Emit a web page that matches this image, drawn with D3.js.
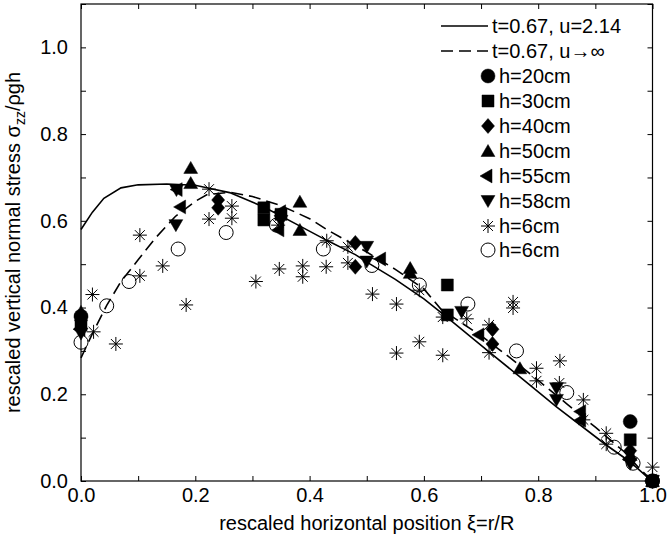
<!DOCTYPE html>
<html>
<head>
<meta charset="utf-8">
<script src="https://cdn.jsdelivr.net/npm/d3@7"></script>
<style>
  body { margin: 0; background: #fff; }
  svg { display: block; font-family: 'Liberation Sans', Arial, sans-serif; }
</style>
</head>
<body>
<svg id="chart" width="668" height="544"></svg>
<script>
// theory curves [xi, sigma]
const curveFinite = [
  [0, 0.58], [0.02, 0.62], [0.04, 0.652], [0.07, 0.676], [0.1, 0.683], [0.15, 0.685],
  [0.2, 0.682], [0.224, 0.675], [0.26, 0.665], [0.32, 0.632], [0.38, 0.59], [0.43, 0.555],
  [0.48, 0.522], [0.506, 0.5], [0.55, 0.465], [0.6, 0.42], [0.64, 0.378], [0.714, 0.298],
  [0.768, 0.24], [0.832, 0.171], [0.919, 0.083], [0.96, 0.045], [0.99, 0.01], [1.0, 0.0]
]
const curveInfinite = [
  [0, 0.284], [0.02, 0.34], [0.045, 0.405], [0.07, 0.46], [0.1, 0.51], [0.13, 0.56],
  [0.165, 0.61], [0.2, 0.645], [0.22, 0.66], [0.26, 0.666], [0.3, 0.656], [0.35, 0.635],
  [0.4, 0.605], [0.43, 0.58], [0.5, 0.528], [0.55, 0.488], [0.6, 0.443], [0.63, 0.396],
  [0.7, 0.335], [0.75, 0.285], [0.8, 0.232], [0.85, 0.178], [0.9, 0.124], [0.95, 0.068],
  [0.98, 0.025], [1.0, 0.0]
]

// measurements [xi, sigma]
const h20 = [[0, 0.38], [0.961, 0.137], [1.0, 0.0]]
const h30 = [[0, 0.36], [0.32, 0.63], [0.32, 0.602], [0.35, 0.615], [0.641, 0.452],
  [0.641, 0.383], [0.961, 0.095], [1.0, 0.0]]
const h40 = [[0, 0.37], [0.24, 0.648], [0.24, 0.63], [0.48, 0.549], [0.48, 0.494],
  [0.72, 0.35], [0.72, 0.316], [0.961, 0.07], [1.0, 0.0]]
const h50 = [[0, 0.39], [0.192, 0.722], [0.192, 0.687], [0.383, 0.644], [0.383, 0.579],
  [0.576, 0.491], [0.576, 0.48], [0.768, 0.26], [0.961, 0.06], [1.0, 0.0]]
const h55 = [[0, 0.35], [0.176, 0.632], [0.17, 0.672], [0.351, 0.621], [0.348, 0.579],
  [0.526, 0.512], [0.698, 0.337], [0.876, 0.16], [0.876, 0.14], [0.961, 0.05], [1.0, 0.0]]
const h58 = [[0, 0.34], [0.166, 0.59], [0.167, 0.671], [0.35, 0.6], [0.5, 0.54],
  [0.5, 0.506], [0.666, 0.39], [0.832, 0.214], [0.832, 0.187], [0.961, 0.04], [1.0, 0.0]]
const h6star = [[0.02, 0.43], [0.022, 0.344], [0.061, 0.316], [0.103, 0.567], [0.103, 0.473],
  [0.143, 0.496], [0.184, 0.406], [0.224, 0.673], [0.224, 0.604], [0.264, 0.634],
  [0.264, 0.606], [0.306, 0.46], [0.347, 0.489], [0.345, 0.59], [0.388, 0.496],
  [0.388, 0.471], [0.43, 0.554], [0.429, 0.494], [0.467, 0.54], [0.467, 0.503],
  [0.51, 0.431], [0.552, 0.408], [0.552, 0.295], [0.592, 0.44], [0.592, 0.321],
  [0.633, 0.378], [0.633, 0.29], [0.675, 0.374], [0.714, 0.36], [0.714, 0.296],
  [0.756, 0.413], [0.756, 0.399], [0.797, 0.26], [0.797, 0.231], [0.838, 0.277],
  [0.837, 0.226], [0.879, 0.187], [0.879, 0.141], [0.919, 0.11], [0.919, 0.085], [1.0, 0.032]]
const h6open = [[0, 0.32], [0.045, 0.404], [0.084, 0.46], [0.17, 0.535], [0.254, 0.573],
  [0.342, 0.59], [0.424, 0.535], [0.509, 0.497], [0.592, 0.452], [0.677, 0.408],
  [0.762, 0.3], [0.85, 0.204], [0.933, 0.078], [0.966, 0.041], [1.0, 0.0]]

const lineLabels = ['t=0.67, u=2.14', 't=0.67, u\u2192\u221e']
const seriesLabels = ['h=20cm', 'h=30cm', 'h=40cm', 'h=50cm', 'h=55cm', 'h=58cm', 'h=6cm', 'h=6cm']
const xTicks = d3.range(0, 11).map(d => d / 10)
const yTicks = d3.range(0, 12).map(d => d / 10)

// marker shapes
const circleT = { draw (c) { c.moveTo(7, 0); c.arc(0, 0, 7, 0, 2 * Math.PI) } }
const squareT = { draw (c) { c.rect(-6, -6, 12, 12) } }
const diamondT = { draw (c) { c.moveTo(0, -7.5); c.lineTo(6.5, 0); c.lineTo(0, 7.5); c.lineTo(-6.5, 0); c.closePath() } }
function tri (angle) {
  return {
    draw (c) {
      for (let i = 0; i < 3; i++) {
        const a = angle + i * 2 * Math.PI / 3
        const px = 8 * Math.cos(a), py = 8 * Math.sin(a) + (Math.abs(Math.sin(angle)) > 0.5 ? -Math.sin(angle) * 1.5 : 0)
        if (i === 0) c.moveTo(px, py)
        else c.lineTo(px, py)
      }
      c.closePath()
    }
  }
}
const starT = {
  draw (c) {
    const r = 7, d = r * Math.SQRT1_2
    c.moveTo(0, -r); c.lineTo(0, r)
    c.moveTo(-r, 0); c.lineTo(r, 0)
    c.moveTo(-d, -d); c.lineTo(d, d)
    c.moveTo(-d, d); c.lineTo(d, -d)
  }
}

const series = [
  { data: h20, type: circleT, filled: true },
  { data: h30, type: squareT, filled: true },
  { data: h40, type: diamondT, filled: true },
  { data: h50, type: tri(-Math.PI / 2), filled: true },
  { data: h55, type: tri(Math.PI), filled: true },
  { data: h58, type: tri(Math.PI / 2), filled: true },
  { data: h6star, type: starT, filled: false },
  { data: h6open, type: circleT, filled: false }
]

const svg = d3.select('#chart')
const width = 668, height = 544
const margin = { left: 81, right: 15.5, top: 4, bottom: 63 }
const x = d3.scaleLinear().domain([0, 1]).range([margin.left, width - margin.right])
const y = d3.scaleLinear().domain([0, 1.1]).range([height - margin.bottom, margin.top])

const fmt = d => (Math.round(d * 10) % 2 === 0 && d <= 1.0001) ? d3.format('.1f')(d) : ''

function styleAxis (g) {
  g.select('.domain').remove()
  g.selectAll('line').attr('stroke', '#000')
  g.selectAll('text').attr('font-size', 20).attr('fill', '#000').attr('font-family', "'Liberation Sans', Arial, sans-serif")
}

svg.append('g')
  .attr('transform', `translate(0,${y(0)})`)
  .call(d3.axisBottom(x).tickValues(xTicks).tickSizeInner(-5).tickSizeOuter(0).tickPadding(7).tickFormat(fmt))
  .call(styleAxis)
svg.append('g')
  .attr('transform', `translate(0,${y(1.1)})`)
  .call(d3.axisTop(x).tickValues(xTicks).tickSizeInner(-5).tickSizeOuter(0).tickFormat(''))
  .call(styleAxis)
svg.append('g')
  .attr('transform', `translate(${x(0)},0)`)
  .call(d3.axisLeft(y).tickValues(yTicks).tickSizeInner(-5).tickSizeOuter(0).tickPadding(13).tickFormat(fmt))
  .call(styleAxis)
svg.append('g')
  .attr('transform', `translate(${x(1)},0)`)
  .call(d3.axisRight(y).tickValues(yTicks).tickSizeInner(-5).tickSizeOuter(0).tickFormat(''))
  .call(styleAxis)

svg.append('rect')
  .attr('x', x(0)).attr('y', y(1.1))
  .attr('width', x(1) - x(0)).attr('height', y(0) - y(1.1))
  .attr('fill', 'none').attr('stroke', '#000').attr('stroke-width', 1.2)

// axis titles
svg.append('text')
  .attr('x', (x(0) + x(1)) / 2).attr('y', 530)
  .attr('text-anchor', 'middle').attr('font-size', 20)
  .text('rescaled horizontal position \u03be=r/R')

const yt = svg.append('text')
  .attr('transform', `translate(20,${(y(0) + y(1.1)) / 2}) rotate(-90)`)
  .attr('text-anchor', 'middle').attr('font-size', 20)
yt.append('tspan').text('rescaled vertical normal stress \u03c3')
yt.append('tspan').attr('font-size', 14).attr('dy', 5).text('zz')
yt.append('tspan').attr('dy', -5).text('/\u03c1gh')

// curves
const line = d3.line().x(d => x(d[0])).y(d => y(d[1]))
svg.append('path').datum(curveFinite)
  .attr('d', line).attr('fill', 'none').attr('stroke', '#000').attr('stroke-width', 1.6)
svg.append('path').datum(curveInfinite)
  .attr('d', line).attr('fill', 'none').attr('stroke', '#000').attr('stroke-width', 1.6)
  .attr('stroke-dasharray', '12,6')

// markers
const sym = d3.symbol()
series.forEach(s => {
  svg.append('g').selectAll('path')
    .data(s.data)
    .enter()
    .append('path')
    .attr('transform', d => `translate(${x(d[0])},${y(d[1])})`)
    .attr('d', sym.type(s.type)())
    .attr('fill', s.filled ? '#000' : 'none')
    .attr('stroke', '#000')
    .attr('stroke-width', s.filled ? 0.5 : 1)
})

// legend
const legend = svg.append('g')
const rowY = [26, 51, 76, 101, 126, 151, 176, 201, 226, 250]
lineLabels.forEach((t, i) => {
  legend.append('line')
    .attr('x1', 441).attr('x2', 488).attr('y1', rowY[i]).attr('y2', rowY[i])
    .attr('stroke', '#000').attr('stroke-width', 1.6)
    .attr('stroke-dasharray', i === 1 ? '12,6' : null)
  legend.append('text').attr('x', 492).attr('y', rowY[i] + 7).attr('font-size', 20).text(t)
})
seriesLabels.forEach((t, i) => {
  const s = series[i]
  legend.append('path')
    .attr('transform', `translate(488,${rowY[i + 2]})`)
    .attr('d', sym.type(s.type)())
    .attr('fill', s.filled ? '#000' : 'none')
    .attr('stroke', '#000')
    .attr('stroke-width', s.filled ? 0.5 : 1)
  legend.append('text').attr('x', 499).attr('y', rowY[i + 2] + 7).attr('font-size', 20).text(t)
})
</script>
</body>
</html>
